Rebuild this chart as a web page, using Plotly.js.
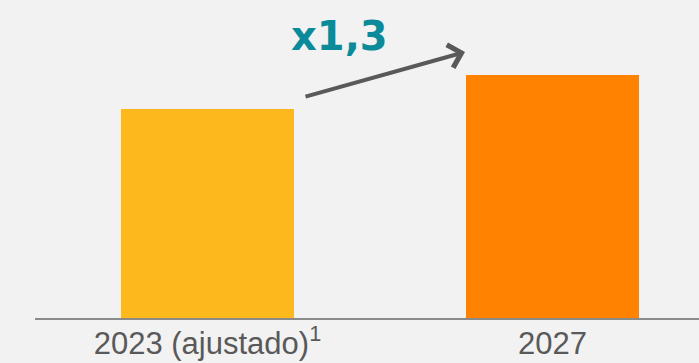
<!DOCTYPE html>
<html>
<head>
<meta charset="utf-8">
<script src="https://cdn.plot.ly/plotly-3.0.1.min.js"></script>
<style>html,body{margin:0;padding:0;background:#f2f2f2;}#chart{width:699px;height:363px;}</style>
</head>
<body>
<div id="chart"></div>
<script>
const categories = ["2023 (ajustado)<sup>1</sup>", "2027"];
const values = [100, 116];
const barColors = ["#FDB81E", "#FF8200"];
const growthLabel = "x1,3";

const trace = {
  type: "bar",
  x: [0, 1],
  y: values,
  width: 0.5,
  marker: {color: barColors, line: {width: 0}},
  hoverinfo: "skip"
};

const layout = {
  width: 699, height: 363,
  margin: {l: 35, r: 0, t: 0, b: 45, pad: 0},
  paper_bgcolor: "#f2f2f2",
  plot_bgcolor: "#f2f2f2",
  showlegend: false,
  bargap: 0,
  xaxis: {
    range: [-0.5, 1.425],
    tickmode: "array",
    tickvals: [0, 1],
    ticktext: categories,
    showgrid: false, zeroline: false,
    showline: true, linecolor: "#8a8a8a", linewidth: 2,
    ticks: "",
    ticklabelstandoff: -3,
    tickfont: {family: "Liberation Sans, Arial, sans-serif", size: 31, color: "#595959"}
  },
  yaxis: {
    range: [0, 152],
    visible: false,
    showgrid: false, zeroline: false
  },
  annotations: [
    {
      xref: "paper", yref: "paper",
      x: 0.6476, y: 0.8365,
      ax: -161, ay: 45,
      text: "",
      showarrow: true,
      arrowhead: 4, arrowsize: 1.15, arrowwidth: 4,
      arrowcolor: "#595959"
    },
    {
      xref: "paper", yref: "paper",
      x: 0.459, y: 1.0,
      xanchor: "center", yanchor: "top",
      yshift: -11,
      text: "<b>" + growthLabel + "</b>",
      showarrow: false,
      font: {family: "DejaVu Sans, sans-serif", size: 40, color: "#0B8A9A"}
    }
  ]
};

Plotly.newPlot("chart", [trace], layout, {displayModeBar: false, staticPlot: true});
</script>
</body>
</html>
